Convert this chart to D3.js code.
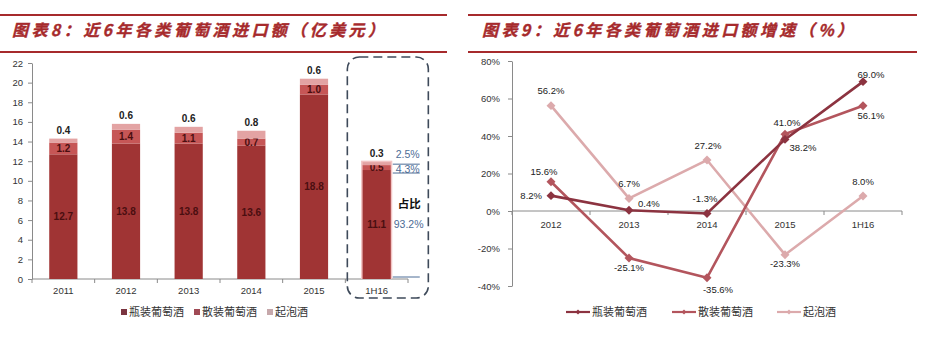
<!DOCTYPE html>
<html><head><meta charset="utf-8">
<script src="https://cdn.jsdelivr.net/npm/d3@7/dist/d3.min.js"></script>
<style>
html,body{margin:0;padding:0;background:#fff;}
svg{display:block;font-family:"Noto Sans CJK SC","Noto Sans",sans-serif;}
</style></head><body>
<svg id="c" width="925" height="361"></svg>
<script>
// ---------- data ----------
const years = ["2011","2012","2013","2014","2015","1H16"];
const bottled = [12.7,13.8,13.8,13.6,18.8,11.1];
const bulk    = [1.2,1.4,1.1,0.7,1.0,0.5];
const sparkling = [0.4,0.6,0.6,0.8,0.6,0.3];
const seriesNames = ["瓶装葡萄酒","散装葡萄酒","起泡酒"];
const leftTicks = [0,2,4,6,8,10,12,14,16,18,20,22];
const shareLabels = ["2.5%","4.3%","93.2%"];

const gYears = ["2012","2013","2014","2015","1H16"];
const gBottled = [8.2,0.4,-1.3,38.2,69.0];
const gBulk = [15.6,-25.1,-35.6,41.0,56.1];
const gSparkling = [56.2,6.7,27.2,-23.3,8.0];
const rightTicks = [-40,-20,0,20,40,60,80];

const titleLeft = "图表8：近6年各类葡萄酒进口额（亿美元）";
const titleRight = "图表9：近6年各类葡萄酒进口额增速（%）";

// ---------- styles ----------
const barColors = ["#a03434","#c65656","#e3a3a3"];
const lineColors = ["#8c3340","#b3555d","#dcaaac"];
const titleColor = "#a62a2c";
const numFont = "Liberation Sans, Arial, sans-serif";
const svg = d3.select("#c");

// ---------- titles ----------
function title(x0,x1,tx,tlen,text){
  const g = svg.append("g");
  g.append("line").attr("x1",x0).attr("x2",x1).attr("y1",15).attr("y2",15)
    .attr("stroke",titleColor).attr("stroke-width",2.2);
  g.append("line").attr("x1",x0).attr("x2",x1).attr("y1",52).attr("y2",52)
    .attr("stroke",titleColor).attr("stroke-width",2.2);
  g.append("text").attr("x",tx).attr("y",36).text(text)
    .attr("textLength",tlen).attr("lengthAdjust","spacing")
    .attr("font-size",16).attr("font-weight","bold").attr("font-style","italic")
    .attr("fill",titleColor).attr("stroke",titleColor).attr("stroke-width",0.4);
}
title(0,447,12,372,titleLeft);
title(468,917,482,371,titleRight);

// ---------- left chart ----------
const x = d3.scaleBand().domain(years).range([32,408]).paddingInner(0.55).paddingOuter(0.275);
const y = d3.scaleLinear().domain([0,22]).range([279,63]);
const L = svg.append("g");

const yAx = L.append("g").attr("transform","translate(32,0)")
  .call(d3.axisLeft(y).tickValues(leftTicks).tickSize(4).tickPadding(5).tickSizeOuter(0));
yAx.select(".domain").attr("stroke","#8a8a8a");
yAx.selectAll(".tick line").attr("stroke","#8a8a8a");
yAx.selectAll("text").attr("font-size",9.5).attr("fill","#333").attr("font-family",numFont);

// x axis
L.append("line").attr("x1",x.range()[0]).attr("x2",x.range()[1]).attr("y1",y(0)).attr("y2",y(0)).attr("stroke","#8a8a8a");
d3.range(years.length+1).forEach(i=>{
  const xx = x.range()[0]+i*x.step();
  L.append("line").attr("x1",xx).attr("x2",xx).attr("y1",y(0)).attr("y2",y(0)+4).attr("stroke","#8a8a8a");
});
L.selectAll(".xl").data(years).enter().append("text")
  .attr("x",d=>x(d)+x.bandwidth()/2).attr("y",y(0)+15).attr("text-anchor","middle")
  .attr("font-size",9.5).attr("fill","#333").attr("font-family",numFont).text(d=>d);

// stacked bars
const rows = years.map((yr,i)=>({yr, v:[bottled[i],bulk[i],sparkling[i]]}));
rows.forEach((r,i)=>{
  let base=0;
  if(r.yr==="1H16"){
    const tot=r.v[0]+r.v[1]+r.v[2];
    L.append("rect").attr("x",x(r.yr)-1.5).attr("width",x.bandwidth()+3)
      .attr("y",y(tot)-1.5).attr("height",y(0)-y(tot)+1.5).attr("fill","#f2c4c4");
  }
  r.v.forEach((v,k)=>{
    L.append("rect").attr("x",x(r.yr)).attr("width",x.bandwidth())
      .attr("y",y(base+v)).attr("height",y(base)-y(base+v)).attr("fill",barColors[k]);
    const cx = x(r.yr)+x.bandwidth()/2;
    if(k<2){
      L.append("text").attr("x",cx).attr("y",(y(base)+y(base+v))/2+3.5)
        .attr("text-anchor","middle").attr("font-size",10).attr("font-weight","bold")
        .attr("fill","#4a0e10").attr("font-family",numFont).text(v.toFixed(1));
    } else {
      L.append("text").attr("x",cx).attr("y",y(base+v)-5)
        .attr("text-anchor","middle").attr("font-size",10).attr("font-weight","bold")
        .attr("fill","#222").attr("font-family",numFont).text(v.toFixed(1));
    }
    base+=v;
  });
});

// 1H16 highlight box and shares
{
  const yr="1H16", i=years.indexOf(yr);
  const bx = x(yr)-x.step()*x.paddingInner()/2;
  L.append("rect").attr("x",bx+2).attr("y",57).attr("width",81).attr("height",241)
    .attr("rx",12).attr("ry",12).attr("fill","none").attr("stroke","#3e4a5a")
    .attr("stroke-width",1.6).attr("stroke-dasharray","9,5");
  const ax = x(yr)+x.bandwidth()+2;
  const tot = bottled[i]+bulk[i]+sparkling[i];
  const blue="#4d6d96";
  L.append("text").attr("x",ax+3).attr("y",y(tot)-4).attr("font-size",10.5).attr("fill",blue)
    .attr("font-family",numFont).text(shareLabels[0]);
  L.append("line").attr("x1",ax).attr("x2",ax+27).attr("y1",y(tot)+2).attr("y2",y(tot)+2).attr("stroke",blue);
  L.append("text").attr("x",ax+3).attr("y",y(tot)+11).attr("font-size",10.5).attr("fill",blue)
    .attr("font-family",numFont).text(shareLabels[1]);
  L.append("line").attr("x1",ax).attr("x2",ax+27).attr("y1",y(bottled[i])+3).attr("y2",y(bottled[i])+3).attr("stroke",blue);
  L.append("text").attr("x",ax+5).attr("y",208).attr("font-size",11.5).attr("font-weight","bold").attr("fill","#111").text("占比");
  L.append("text").attr("x",ax+1).attr("y",228).attr("font-size",10.5).attr("fill",blue)
    .attr("font-family",numFont).text(shareLabels[2]);
  L.append("line").attr("x1",ax).attr("x2",ax+27).attr("y1",y(0)-2).attr("y2",y(0)-2).attr("stroke",blue);
}

// left legend
const legL = [121,194,267];
seriesNames.forEach((n,k)=>{
  L.append("rect").attr("x",legL[k]).attr("y",309).attr("width",6).attr("height",6).attr("fill",["#7a3440","#a04a55","#c6a8ab"][k]);
  L.append("text").attr("x",legL[k]+8).attr("y",316).attr("font-size",11).attr("fill","#333").text(n);
});

// ---------- right chart ----------
const xr = d3.scaleBand().domain(gYears).range([512,902]).padding(0);
const yr = d3.scaleLinear().domain([-40,80]).range([286,61]);
const R = svg.append("g");
const yAx2 = R.append("g").attr("transform","translate(512,0)")
  .call(d3.axisLeft(yr).tickValues(rightTicks).tickFormat(d=>d+"%").tickSize(4).tickPadding(8).tickSizeOuter(0));
yAx2.select(".domain").attr("stroke","#8a8a8a");
yAx2.selectAll(".tick line").attr("stroke","#8a8a8a");
yAx2.selectAll("text").attr("font-size",9.5).attr("fill","#333").attr("font-family",numFont);

R.append("line").attr("x1",xr.range()[0]).attr("x2",xr.range()[1]).attr("y1",yr(0)).attr("y2",yr(0)).attr("stroke","#8a8a8a");
d3.range(gYears.length+1).forEach(i=>{
  const xx = xr.range()[0]+i*xr.step();
  R.append("line").attr("x1",xx).attr("x2",xx).attr("y1",yr(0)).attr("y2",yr(0)+4).attr("stroke","#8a8a8a");
});
R.selectAll(".xl").data(gYears).enter().append("text")
  .attr("x",d=>xr(d)+xr.bandwidth()/2).attr("y",yr(0)+17).attr("text-anchor","middle")
  .attr("font-size",9.5).attr("fill","#333").attr("font-family",numFont).text(d=>d);

const px = d=>xr(d)+xr.bandwidth()/2;
const gSeries = [gBottled,gBulk,gSparkling];
// label centre offsets [dx,dy,anchor] per series per point
const offs = [
  [[-9,0,"end"],[9,-7,"start"],[-2,-15,"middle"],[18,8,"middle"],[8,-7,"middle"]],
  [[-7,-10,"middle"],[0,9,"middle"],[11,12,"middle"],[2,-12,"middle"],[8,10,"middle"]],
  [[0,-15,"middle"],[0,-15,"middle"],[1,-15,"middle"],[0,9,"middle"],[0,-15,"middle"]]
];
const marker = d3.symbol().type(d3.symbolSquare).size(40)();
const line = d3.line().x((d,i)=>px(gYears[i])).y(d=>yr(d));
[2,1,0].forEach(k=>{
  const data = gSeries[k];
  R.append("path").datum(data).attr("d",line).attr("fill","none")
    .attr("stroke",lineColors[k]).attr("stroke-width",2.6);
  R.selectAll(".m"+k).data(data).enter().append("path")
    .attr("d",marker)
    .attr("transform",(d,i)=>`translate(${px(gYears[i])},${yr(d)}) rotate(45)`)
    .attr("fill",lineColors[k]);
});
gSeries.forEach((data,k)=>{
  data.forEach((v,i)=>{
    const o = offs[k][i];
    R.append("text").attr("x",px(gYears[i])+o[0]).attr("y",yr(v)+o[1]+3.5)
      .attr("text-anchor",o[2]).attr("font-size",9.5).attr("fill","#222")
      .attr("font-family",numFont).text(v.toFixed(1)+"%");
  });
});

// right legend
const legR = [566,672,777];
const smallMarker = d3.symbol().type(d3.symbolSquare).size(12)();
seriesNames.forEach((n,k)=>{
  R.append("line").attr("x1",legR[k]).attr("x2",legR[k]+24).attr("y1",312).attr("y2",312)
    .attr("stroke",lineColors[k]).attr("stroke-width",2.2);
  R.append("path").attr("d",smallMarker)
    .attr("transform",`translate(${legR[k]+12},312) rotate(45)`).attr("fill",lineColors[k]);
  R.append("text").attr("x",legR[k]+26).attr("y",316).attr("font-size",11).attr("fill","#333").text(n);
});
</script></body></html>
